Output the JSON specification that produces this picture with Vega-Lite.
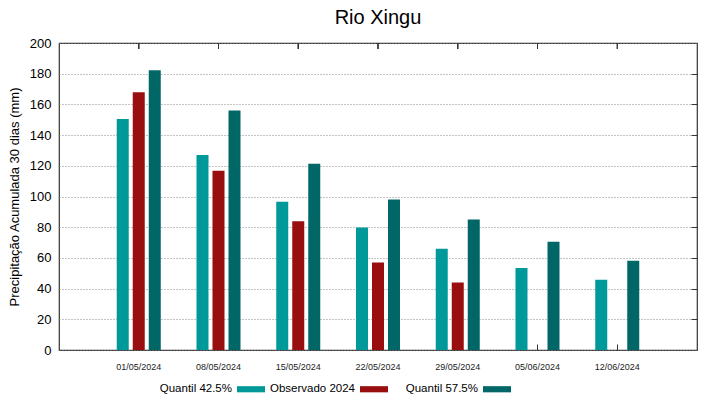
{
  "$schema": "https://vega.github.io/schema/vega-lite/v6.json",
  "autosize": "none",
  "width": 638,
  "height": 307,
  "padding": {"left": 59, "top": 43, "right": 22, "bottom": 49},
  "background": "white",
  "title": {"text": "Rio Xingu", "font": "Liberation Sans", "fontSize": 20, "fontWeight": "normal", "color": "#000", "offset": 9, "anchor": "middle"},
  "config": {
    "font": "Liberation Sans",
    "view": {"stroke": "#333", "strokeWidth": 1.2}
  },
  "resolve": {"axis": {"y": "independent"}},
  "data": {"values": [
    {"data": "01/05/2024", "serie": "Quantil 42.5%", "valor": 150.5},
    {"data": "01/05/2024", "serie": "Observado 2024", "valor": 167.9},
    {"data": "01/05/2024", "serie": "Quantil 57.5%", "valor": 182.2},
    {"data": "08/05/2024", "serie": "Quantil 42.5%", "valor": 127.1},
    {"data": "08/05/2024", "serie": "Observado 2024", "valor": 116.7},
    {"data": "08/05/2024", "serie": "Quantil 57.5%", "valor": 156.1},
    {"data": "15/05/2024", "serie": "Quantil 42.5%", "valor": 96.5},
    {"data": "15/05/2024", "serie": "Observado 2024", "valor": 83.9},
    {"data": "15/05/2024", "serie": "Quantil 57.5%", "valor": 121.4},
    {"data": "22/05/2024", "serie": "Quantil 42.5%", "valor": 79.8},
    {"data": "22/05/2024", "serie": "Observado 2024", "valor": 57.0},
    {"data": "22/05/2024", "serie": "Quantil 57.5%", "valor": 98.0},
    {"data": "29/05/2024", "serie": "Quantil 42.5%", "valor": 65.9},
    {"data": "29/05/2024", "serie": "Observado 2024", "valor": 44.0},
    {"data": "29/05/2024", "serie": "Quantil 57.5%", "valor": 85.0},
    {"data": "05/06/2024", "serie": "Quantil 42.5%", "valor": 53.4},
    {"data": "05/06/2024", "serie": "Quantil 57.5%", "valor": 70.5},
    {"data": "12/06/2024", "serie": "Quantil 42.5%", "valor": 45.7},
    {"data": "12/06/2024", "serie": "Quantil 57.5%", "valor": 58.1}
  ]},
  "layer": [
    {
      "mark": {"type": "bar", "cornerRadius": 0},
      "encoding": {
        "x": {
          "field": "data", "type": "nominal", "sort": null,
          "scale": {"paddingInner": 0.398, "paddingOuter": 0.699},
          "axis": {"title": null, "labelAngle": 0, "labelFontSize": 9, "labelColor": "#222", "tickSize": -6, "tickColor": "#333", "domain": false, "labelPadding": 18, "orient": "bottom"}
        },
        "xOffset": {
          "field": "serie", "type": "nominal",
          "sort": ["Quantil 42.5%", "Observado 2024", "Quantil 57.5%"],
          "scale": {"paddingInner": 0.25, "paddingOuter": 0.125}
        },
        "y": {
          "field": "valor", "type": "quantitative",
          "scale": {"domain": [0, 200], "nice": false},
          "axis": {
            "title": "Precipitação Acumulada 30 dias (mm)", "titleFontSize": 13, "titleFontWeight": "normal", "titleColor": "#000", "titlePadding": 8,
            "values": [0, 20, 40, 60, 80, 100, 120, 140, 160, 180, 200],
            "labelFontSize": 13, "labelColor": "#000", "labelPadding": 8,
            "tickSize": 0, "domain": false,
            "grid": true, "gridDash": [1, 2], "gridColor": "#888", "gridWidth": 1
          }
        },
        "color": {
          "field": "serie", "type": "nominal",
          "scale": {"domain": ["Quantil 42.5%", "Observado 2024", "Quantil 57.5%"], "range": ["#009999", "#990f0f", "#006666"]},
          "legend": {
            "title": null, "orient": "none", "direction": "horizontal",
            "legendX": 178, "legendY": 332,
            "symbolType": "M-1,-0.22H1V0.22H-1Z", "symbolSize": 784, "symbolStrokeWidth": 0,
            "labelFontSize": 11.5, "labelColor": "#000",
            "labelAlign": "right", "labelOffset": -33,
            "gridAlign": "all",
            "columnPadding": 4
          }
        }
      }
    },
    {
      "mark": {"type": "rule", "color": "#333", "strokeWidth": 1},
      "encoding": {
        "x": {"field": "data", "type": "nominal", "sort": null},
        "y": {"datum": 200, "type": "quantitative",
          "axis": {"title": null, "labels": false, "tickSize": -6, "tickColor": "#333", "domain": false, "grid": false, "orient": "right", "minExtent": 0, "maxExtent": 0,
            "values": [20, 40, 60, 80, 100, 120, 140, 160, 180]}},
        "y2": {"datum": 196.1}
      }
    }
  ]
}
